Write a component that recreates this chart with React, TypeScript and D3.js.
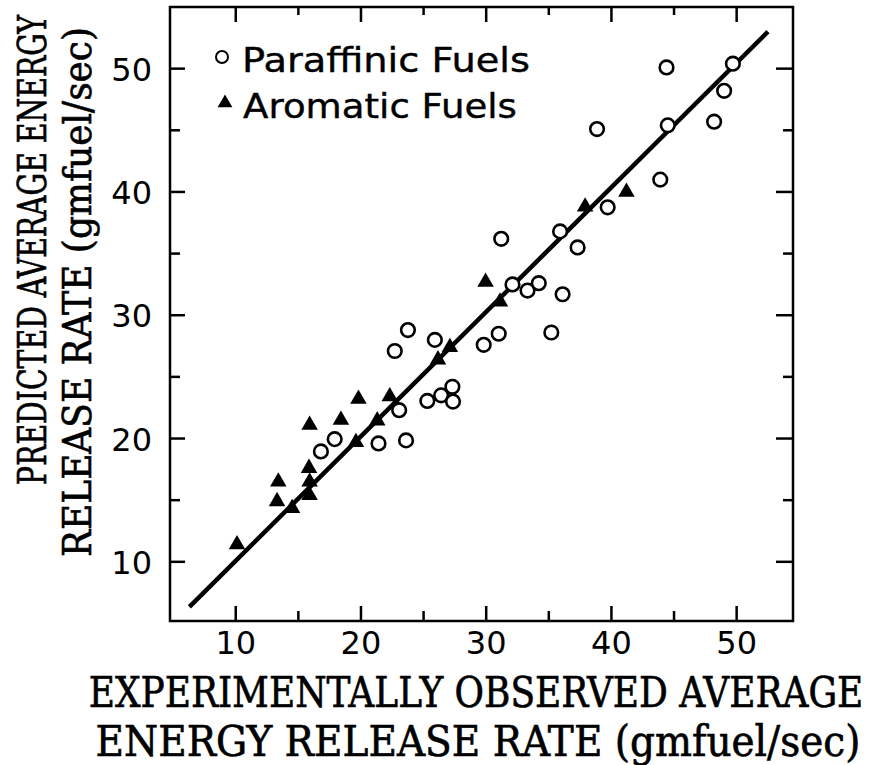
import React, { useLayoutEffect, useRef } from "react";
import * as d3 from "d3";

// Observed vs predicted average energy release rate (gmfuel/sec)
const paraffinicX = [16.8, 17.9, 21.4, 23.6, 23.05, 22.7, 23.75, 25.9, 25.3, 26.4, 27.3, 27.35, 29.8, 31.0, 31.2, 32.1, 33.3, 34.2, 35.2, 36.1, 35.9, 37.3, 39.7, 38.85, 43.9, 44.5, 44.4, 48.2, 49.0, 49.7];
const paraffinicY = [18.95, 19.95, 19.6, 19.85, 22.3, 27.1, 28.8, 28.0, 23.05, 23.5, 24.2, 23.0, 27.6, 28.5, 36.2, 32.5, 32.0, 32.6, 28.6, 31.7, 36.8, 35.5, 38.75, 45.1, 41.0, 45.4, 50.1, 45.7, 48.2, 50.4];

const aromaticX = [10.1, 13.3, 13.4, 14.5, 15.9, 15.9, 15.85, 15.9, 18.4, 19.6, 19.8, 21.3, 22.3, 26.15, 27.1, 29.95, 31.1, 37.9, 41.2];
const aromaticY = [11.4, 14.9, 16.5, 14.35, 15.4, 16.5, 17.6, 21.1, 21.5, 19.7, 23.2, 21.45, 23.4, 26.4, 27.4, 32.7, 31.1, 38.8, 40.0];

// Correlation line end points
const fitX = [6.3, 52.5];
const fitY = [6.35, 53.0];

const majorTicks = [10, 20, 30, 40, 50];
const minorTicks = [15, 25, 35, 45];

const legendLabels = ["Paraffinic Fuels", "Aromatic Fuels"];
const xTitle = ["EXPERIMENTALLY OBSERVED AVERAGE", "ENERGY RELEASE RATE (gmfuel/sec)"];
const yTitle = ["PREDICTED AVERAGE ENERGY", "RELEASE RATE (gmfuel/sec)"];

const W = 872;
const H = 765;
const left = 170, right = 793, top = 7, bottom = 621;

const sansFont = "'DejaVu Sans', 'Open Sans', sans-serif";
const serifFont = "'DejaVu Serif Condensed', 'DejaVu Serif', 'Liberation Serif', serif";

// Text squeezed horizontally to a given width, centred at (cx, baseline)
function FitText(props: { text: string; cx: number; cy: number; width: number; size: number; rotate?: number; family: string; stroke?: number }) {
  const ref = useRef<SVGTextElement>(null);
  const { text, cx, cy, width, size, rotate = 0, family, stroke = 0 } = props;
  useLayoutEffect(() => {
    const el = ref.current;
    if (!el) return;
    const w = el.getComputedTextLength();
    const s = w > 0 ? width / w : 1;
    el.setAttribute("transform", `translate(${cx},${cy}) rotate(${rotate}) scale(${s},1)`);
  }, [text, cx, cy, width, size, rotate]);
  return (
    <text
      ref={ref}
      transform={`translate(${cx},${cy}) rotate(${rotate})`}
      textAnchor="middle"
      fontFamily={family}
      fontSize={size}
      fill="#000"
      stroke={stroke > 0 ? "#000" : "none"}
      strokeWidth={stroke}
    >
      {text}
    </text>
  );
}

export default function App() {
  const x = d3.scaleLinear().domain([4.75, 54.5]).range([left, right]);
  const y = d3.scaleLinear().domain([5.2, 55.0]).range([bottom, top]);

  const tri = d3.symbol().type(d3.symbolTriangle).size(118)();
  const legendTri = d3.symbol().type(d3.symbolTriangle).size(95)();

  const line = d3.line<number>()
    .x((_, i) => x(fitX[i]))
    .y((_, i) => y(fitY[i]));

  const majorLen = 15;
  const minorLen = 10;

  return (
    <svg
      width={W}
      height={H}
      viewBox={`0 0 ${W} ${H}`}
      style={{ position: "absolute", left: 0, top: 0, background: "#fff" }}
    >
      <rect x={0} y={0} width={W} height={H} fill="#fff" />

      {/* frame */}
      <rect
        x={left}
        y={top}
        width={right - left}
        height={bottom - top}
        fill="none"
        stroke="#000"
        strokeWidth={2.5}
      />

      {/* inward ticks on all four sides */}
      {majorTicks.map((t) => (
        <g key={"M" + t} stroke="#000" strokeWidth={2.5}>
          <line x1={x(t)} x2={x(t)} y1={bottom} y2={bottom - majorLen} />
          <line x1={x(t)} x2={x(t)} y1={top} y2={top + majorLen} />
          <line x1={left} x2={left + majorLen} y1={y(t)} y2={y(t)} />
          <line x1={right} x2={right - majorLen - 2} y1={y(t)} y2={y(t)} />
        </g>
      ))}
      {minorTicks.map((t) => (
        <g key={"m" + t} stroke="#000" strokeWidth={2.5}>
          <line x1={x(t)} x2={x(t)} y1={bottom} y2={bottom - minorLen} />
          <line x1={x(t)} x2={x(t)} y1={top} y2={top + minorLen - 2} />
          <line x1={left} x2={left + minorLen} y1={y(t)} y2={y(t)} />
          <line x1={right} x2={right - minorLen} y1={y(t)} y2={y(t)} />
        </g>
      ))}

      {/* tick labels */}
      {majorTicks.map((t) => (
        <text
          key={"xl" + t}
          x={x(t)}
          y={bottom + 33}
          textAnchor="middle"
          fontFamily={sansFont}
          fontSize={32}
          fill="#000"
        >
          {t}
        </text>
      ))}
      {majorTicks.map((t) => (
        <text
          key={"yl" + t}
          x={left - 18}
          y={y(t) + 12}
          textAnchor="end"
          fontFamily={sansFont}
          fontSize={32}
          fill="#000"
        >
          {t}
        </text>
      ))}

      {/* correlation line */}
      <path d={line(fitX) || ""} fill="none" stroke="#000" strokeWidth={4.5} />

      {/* aromatic fuels */}
      {aromaticX.map((v, i) => (
        <path
          key={"a" + i}
          d={tri || ""}
          transform={`translate(${x(v)},${y(aromaticY[i])})`}
          fill="#000"
        />
      ))}

      {/* paraffinic fuels */}
      {paraffinicX.map((v, i) => (
        <circle
          key={"p" + i}
          cx={x(v)}
          cy={y(paraffinicY[i])}
          r={6.8}
          fill="#fff"
          stroke="#000"
          strokeWidth={2.6}
        />
      ))}

      {/* legend */}
      <circle cx={222} cy={57} r={6} fill="#fff" stroke="#000" strokeWidth={2} />
      <FitText text={legendLabels[0]} cx={386} cy={72} width={288} size={34} family={sansFont} stroke={0.4} />
      <path d={legendTri || ""} transform="translate(225,103)" fill="#000" />
      <FitText text={legendLabels[1]} cx={380} cy={118} width={274} size={34} family={sansFont} stroke={0.4} />

      {/* x axis title */}
      <FitText text={xTitle[0]} cx={476} cy={707} width={775} size={42} family={serifFont} stroke={0.6} />
      <FitText text={xTitle[1]} cx={478} cy={756} width={765} size={42} family={serifFont} stroke={0.6} />

      {/* y axis title */}
      <FitText text={yTitle[0]} cx={46} cy={250} width={470} size={39} rotate={-90} family={serifFont} stroke={0.6} />
      <FitText text={yTitle[1]} cx={91} cy={292} width={530} size={39} rotate={-90} family={serifFont} stroke={0.6} />
    </svg>
  );
}
